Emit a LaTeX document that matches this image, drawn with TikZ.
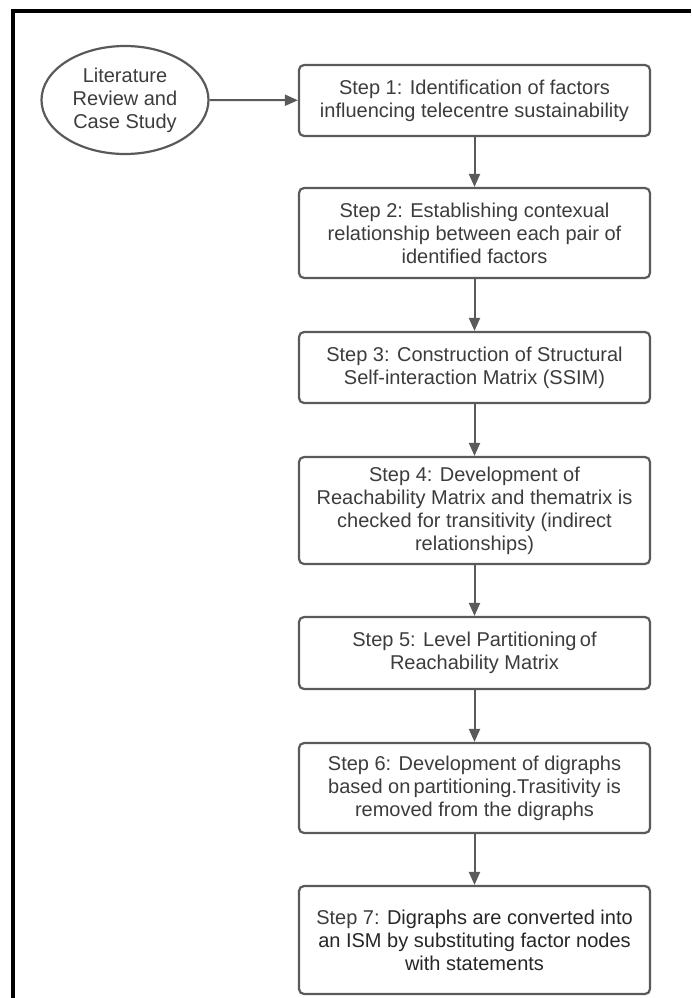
\documentclass[tikz,border=0pt]{standalone}
\usepackage{fontspec}
\setmainfont{Liberation Sans}
\usetikzlibrary{shapes.geometric,arrows.meta}
\definecolor{boxgray}{HTML}{5A5A5A}
\definecolor{textgray}{HTML}{3C3C3C}
\begin{document}
\begin{tikzpicture}[x=1pt,y=-1pt,
  stepbox/.style={draw=boxgray,line width=2.2pt,rounded corners=5pt,minimum width=351pt,inner sep=0pt,align=center,text=textgray,font=\fontsize{20}{23}\selectfont},
  sourceoval/.style={draw=boxgray,line width=2.2pt,ellipse,minimum width=167pt,minimum height=108pt,inner sep=0pt,align=center,text=textgray,font=\fontsize{20}{23}\selectfont},
  flow/.style={draw=boxgray,line width=2pt,-{Triangle[width=11pt,length=13pt]}}]
\useasboundingbox (0,0) rectangle (691,998);
\draw[line width=4pt] (13,998) -- (13,11) -- (691,11);
\node[sourceoval] (lit) at (125,100) {Literature\\Review and\\Case Study};
\node[stepbox,minimum height=71pt] (s1) at (474.5,100.5) {Step 1: Identification of factors\\influencing telecentre sustainability};
\node[stepbox,minimum height=90pt] (s2) at (474.5,233) {Step 2: Establishing contexual\\relationship between each pair of\\identified factors};
\node[stepbox,minimum height=71pt] (s3) at (474.5,367.5) {Step 3: Construction of Structural\\Self-interaction Matrix (SSIM)};
\node[stepbox,minimum height=107pt] (s4) at (474.5,510.5) {Step 4: Development of\\Reachability Matrix and thematrix is\\checked for transitivity (indirect\\relationships)};
\node[stepbox,minimum height=72pt] (s5) at (474.5,653) {Step 5: Level Partitioning\,of\\Reachability Matrix};
\node[stepbox,minimum height=90pt] (s6) at (474.5,788) {Step 6: Development of digraphs\\based on\,partitioning.Trasitivity is\\removed from the digraphs};
\node[stepbox,minimum height=108pt,text=black!85] (s7) at (474.5,940) {{\color{textgray}Step 7:} Digraphs are converted into\\an ISM by substituting factor nodes\\with statements};
\draw[flow] (lit) -- (s1);
\draw[flow] (s1) -- (s2);
\draw[flow] (s2) -- (s3);
\draw[flow] (s3) -- (s4);
\draw[flow] (s4) -- (s5);
\draw[flow] (s5) -- (s6);
\draw[flow] (s6) -- (s7);
\end{tikzpicture}
\end{document}
